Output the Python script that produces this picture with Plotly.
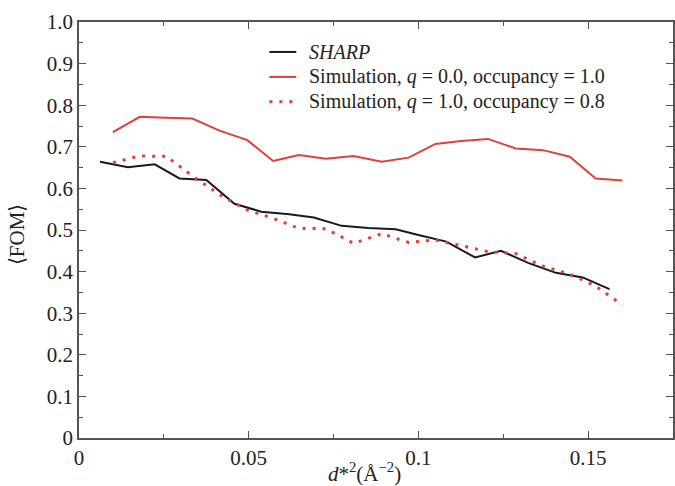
import plotly.graph_objects as go

# d*^2 (Å^-2) and <FOM> values
sharp_x = [0.0062, 0.0144, 0.0223, 0.0296, 0.0375, 0.0458, 0.0537, 0.0619, 0.0692, 0.0774,
           0.0853, 0.0933, 0.1000, 0.1082, 0.1167, 0.1243, 0.1323, 0.1405, 0.1484, 0.1563]
sharp_y = [0.664, 0.651, 0.658, 0.624, 0.620, 0.563, 0.544, 0.538, 0.530, 0.510,
           0.505, 0.502, 0.488, 0.472, 0.434, 0.450, 0.421, 0.397, 0.386, 0.358]

sim_x = [0.0100, 0.0179, 0.0258, 0.0334, 0.0414, 0.0496, 0.0572, 0.0648, 0.0727, 0.0809,
         0.0892, 0.0971, 0.1050, 0.1126, 0.1205, 0.1287, 0.1367, 0.1446, 0.1522, 0.1601]
sim_q0_y = [0.735, 0.772, 0.770, 0.768, 0.739, 0.716, 0.666, 0.680, 0.671, 0.678,
            0.664, 0.674, 0.707, 0.714, 0.719, 0.696, 0.692, 0.676, 0.624, 0.619]
sim_q1_y = [0.662, 0.678, 0.677, 0.630, 0.585, 0.548, 0.528, 0.504, 0.503, 0.468,
            0.491, 0.470, 0.476, 0.463, 0.448, 0.443, 0.413, 0.394, 0.365, 0.320]

series_names = ["<i>SHARP</i>",
                "Simulation, <i>q</i> = 0.0, occupancy = 1.0",
                "Simulation, <i>q</i> = 1.0, occupancy = 0.8"]

x_ticks = [0, 0.05, 0.1, 0.15]
x_tick_labels = ["0", "0.05", "0.1", "0.15"]
y_ticks = [0, 0.1, 0.2, 0.3, 0.4, 0.5, 0.6, 0.7, 0.8, 0.9, 1.0]
y_tick_labels = ["0", "0.1", "0.2", "0.3", "0.4", "0.5", "0.6", "0.7", "0.8", "0.9", "1.0"]

RED = "#e0403a"
BLACK = "#1a1a1a"
FONT = "Liberation Serif"
TXT = "#222222"

styles = [dict(color=BLACK, width=2),
          dict(color=RED, width=2),
          dict(color=RED, width=3, dash="3px,7px")]

fig = go.Figure()
for xs, ys, name, st in zip([sharp_x, sim_x, sim_x], [sharp_y, sim_q0_y, sim_q1_y],
                            series_names, styles):
    fig.add_trace(go.Scatter(x=xs, y=ys, mode="lines", name=name, line=st,
                             showlegend=False))

axis_common = dict(
    showgrid=False, zeroline=False, showline=True, linecolor="#555555", linewidth=1.5,
    mirror="ticks", ticks="inside", ticklen=7, tickwidth=1.3, tickcolor="#555555",
    tickfont=dict(family=FONT, size=21, color=TXT),
)

fig.update_xaxes(range=[0, 0.175], tickvals=x_ticks, ticktext=x_tick_labels,
                 minor=dict(dtick=0.025, ticks="inside", ticklen=4, tickwidth=1.3, tickcolor="#555555"),
                 **axis_common)
fig.update_yaxes(range=[0, 1.0], tickvals=y_ticks, ticktext=y_tick_labels,
                 minor=dict(dtick=0.05, ticks="inside", ticklen=4, tickwidth=1.3, tickcolor="#555555"),
                 **axis_common)

# Manual legend (compact row spacing like the reference)
leg_rows = [0.928, 0.868, 0.808]
for name, st, yy in zip(series_names, styles, leg_rows):
    sample = dict(color=st["color"], width=st["width"])
    if "dash" in st:
        sample["dash"] = st["dash"]
    fig.add_shape(type="line", xref="paper", yref="paper", x0=0.3205, x1=0.3658,
                  y0=yy, y1=yy, line=sample)
    fig.add_annotation(text=name, xref="paper", yref="paper", x=0.384, y=yy,
                       xanchor="left", yanchor="middle", showarrow=False,
                       font=dict(family=FONT, size=20, color=TXT))

fig.add_annotation(text="<i>d</i>*<sup>2</sup>(Å<sup>−2</sup>)", xref="paper", yref="paper",
                   x=0.48, y=0, yshift=-34, showarrow=False, yanchor="middle",
                   font=dict(family=FONT, size=21, color=TXT))
fig.add_annotation(text="⟨FOM⟩", xref="paper", yref="paper", x=0, xshift=-62, y=0.49,
                   textangle=-90, showarrow=False, xanchor="center", yanchor="middle",
                   font=dict(family=FONT, size=21, color=TXT))

fig.update_layout(
    width=675, height=486,
    margin=dict(l=79, r=0, t=22, b=48),
    paper_bgcolor="white", plot_bgcolor="white",
    font=dict(family=FONT, size=21, color=TXT),
    showlegend=False,
)

fig.write_html("out.html", config={"displayModeBar": False},
               post_script="document.body.style.margin='0';document.body.style.overflow='hidden';")
